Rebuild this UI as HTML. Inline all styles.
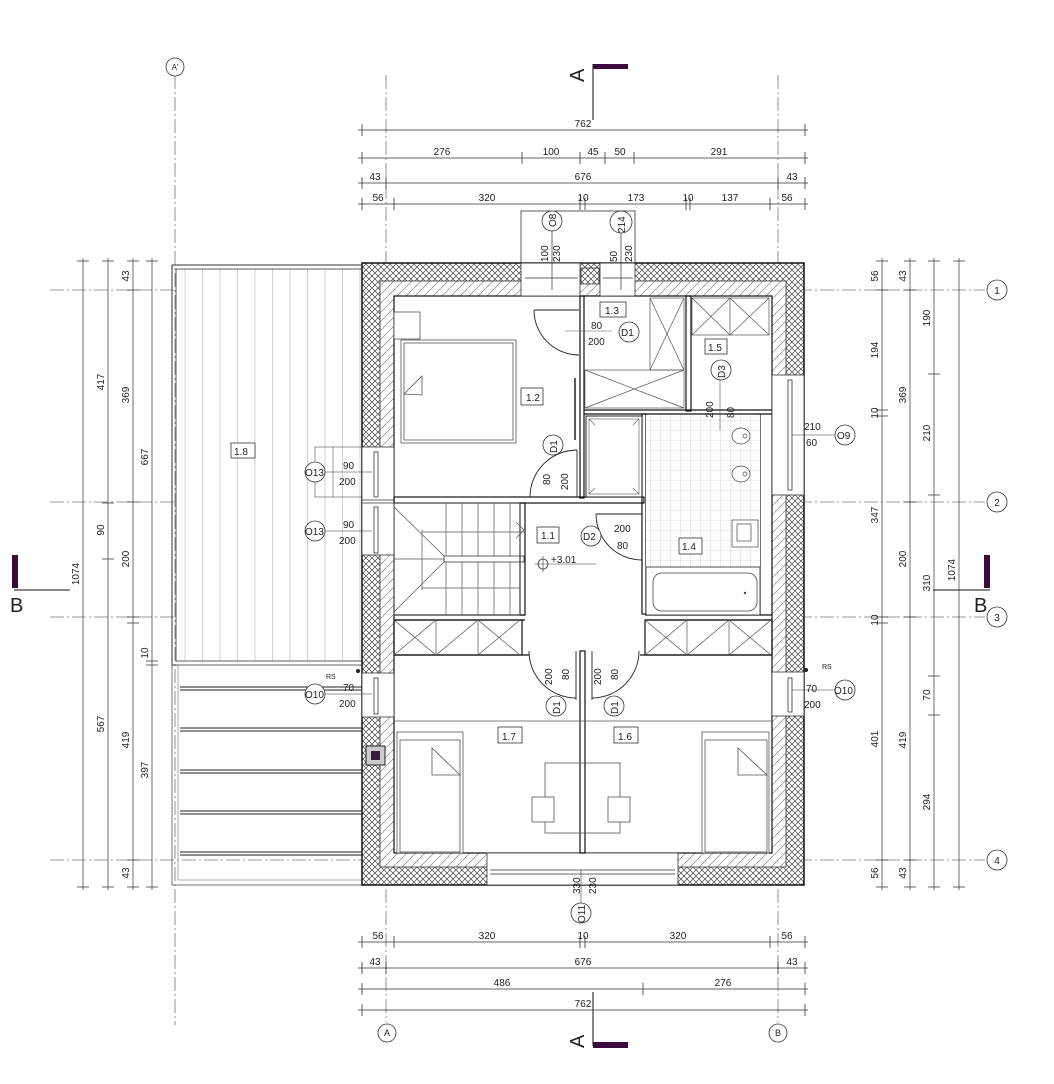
<!DOCTYPE html>
<html><head><meta charset="utf-8"><style>
html,body{margin:0;padding:0;background:#fff;}
svg{display:block;}
text{font-family:"Liberation Sans Narrow","Liberation Sans",sans-serif;font-size:10px;fill:#222;}
</style></head><body>
<svg width="1054" height="1084" viewBox="0 0 1054 1084" xmlns="http://www.w3.org/2000/svg">
<defs>
<pattern id="cross" width="6" height="6" patternUnits="userSpaceOnUse">
<rect width="6" height="6" fill="#fff"/>
<path d="M0,0L6,6M6,0L0,6" stroke="#444" stroke-width="0.7"/>
</pattern>
<pattern id="diag" width="9" height="9" patternUnits="userSpaceOnUse">
<rect width="9" height="9" fill="#fff"/>
<path d="M0,9L9,0" stroke="#888" stroke-width="0.7"/>
</pattern>
<pattern id="tile" width="10" height="10" patternUnits="userSpaceOnUse">
<rect width="10" height="10" fill="#fff"/>
<path d="M0,0H10M0,0V10" stroke="#bbb" stroke-width="0.6"/>
</pattern>
<pattern id="vstr" x="176" width="17.5" height="10" patternUnits="userSpaceOnUse">
<rect width="17.5" height="10" fill="#fff"/>
<path d="M9,0V10" stroke="#ccc" stroke-width="0.9"/>
</pattern>
</defs>

<g stroke="#777" stroke-width="0.8" stroke-dasharray="14,3,2,3" fill="none">
<line x1="175" y1="75" x2="175" y2="1025"/>
<line x1="386" y1="75" x2="386" y2="1022"/>
<line x1="778" y1="75" x2="778" y2="1022"/>
<line x1="50" y1="290" x2="985" y2="290"/>
<line x1="50" y1="502" x2="985" y2="502"/>
<line x1="50" y1="617" x2="985" y2="617"/>
<line x1="50" y1="860" x2="985" y2="860"/>
</g>
<g fill="#fff" stroke="#333" stroke-width="0.8">
<circle cx="175" cy="67" r="9"/><circle cx="387" cy="1033" r="9"/><circle cx="778" cy="1033" r="9"/>
<circle cx="997" cy="290" r="10"/><circle cx="997" cy="502" r="10"/><circle cx="997" cy="617" r="10"/><circle cx="997" cy="860" r="10"/>
</g>
<g text-anchor="middle">
<text x="175" y="70" style="font-size:8px">A'</text>
<text x="387" y="1036" style="font-size:9px">A</text><text x="778" y="1036" style="font-size:9px">B</text>
<text x="997" y="294">1</text><text x="997" y="506">2</text><text x="997" y="621">3</text><text x="997" y="864">4</text>
</g>

<rect x="172" y="265" width="190" height="400" fill="none" stroke="#333" stroke-width="1"/>
<rect x="176" y="269" width="186" height="392" fill="url(#vstr)" stroke="#333" stroke-width="0.8"/>
<rect x="172" y="665" width="190" height="220" fill="none" stroke="#555" stroke-width="0.8"/>
<rect x="178" y="665" width="184" height="215" fill="none" stroke="#777" stroke-width="0.6"/>
<g stroke="#222" stroke-width="0.9">
<line x1="180" y1="687" x2="362" y2="687"/><line x1="180" y1="690" x2="362" y2="690"/>
<line x1="180" y1="728" x2="362" y2="728"/><line x1="180" y1="731" x2="362" y2="731"/>
<line x1="180" y1="770" x2="362" y2="770"/><line x1="180" y1="773" x2="362" y2="773"/>
<line x1="180" y1="811" x2="362" y2="811"/><line x1="180" y1="814" x2="362" y2="814"/>
<line x1="180" y1="852" x2="362" y2="852"/><line x1="180" y1="855" x2="362" y2="855"/>
</g>
<rect x="315" y="447" width="47" height="50" fill="none" stroke="#666" stroke-width="0.7"/>
<line x1="333" y1="447" x2="333" y2="497" stroke="#666" stroke-width="0.6"/>
<rect x="231" y="443" width="24" height="15" fill="#fff" stroke="#333" stroke-width="0.8"/>
<text x="234" y="455">1.8</text>

<rect x="362" y="263" width="442" height="622" fill="url(#cross)" stroke="#111" stroke-width="1.5"/>
<rect x="380" y="281" width="406" height="586" fill="url(#diag)" stroke="#333" stroke-width="0.8"/>
<rect x="394" y="296" width="378" height="557" fill="#fff" stroke="#111" stroke-width="1.2"/>

<g fill="#fff" stroke="#333" stroke-width="0.8">
<rect x="521" y="263" width="59" height="33"/>
<rect x="600" y="263" width="35" height="33"/>
<rect x="581" y="268" width="18" height="16" fill="url(#cross)"/>
<rect x="362" y="447" width="32" height="108"/>
<rect x="362" y="673" width="32" height="44"/>
<rect x="772" y="375" width="32" height="120"/>
<rect x="772" y="672" width="32" height="44"/>
<rect x="487" y="853" width="191" height="32"/>
</g>
<g stroke="#333" stroke-width="0.8" fill="none">
<rect x="374" y="452" width="4" height="45"/><rect x="374" y="507" width="4" height="46"/>
<rect x="374" y="678" width="4" height="36"/>
<rect x="788" y="380" width="4" height="110"/><rect x="788" y="678" width="4" height="34"/>
<line x1="362" y1="500" x2="394" y2="500"/><line x1="362" y1="503" x2="394" y2="503"/>
<line x1="490" y1="870" x2="675" y2="870"/><line x1="490" y1="874" x2="675" y2="874"/>
<line x1="525" y1="278" x2="578" y2="278"/><line x1="603" y1="278" x2="633" y2="278"/>
</g>
<rect x="366" y="746" width="19" height="19" fill="#ccc" stroke="#222"/>
<rect x="371" y="751" width="9" height="9" fill="#3a1a3a"/>
<circle cx="358" cy="671" r="2" fill="#222"/><circle cx="806" cy="670" r="2" fill="#222"/>
<text x="326" y="679" style="font-size:7px">RS</text><text x="822" y="669" style="font-size:7px">RS</text>

<rect x="521" y="211" width="114" height="52" fill="none" stroke="#333" stroke-width="0.8"/>
<line x1="552" y1="230" x2="552" y2="290" stroke="#333" stroke-width="0.7"/>
<line x1="621" y1="232" x2="621" y2="290" stroke="#333" stroke-width="0.7"/>
<circle cx="552" cy="221" r="10" fill="#fff" stroke="#333" stroke-width="0.8"/>
<circle cx="621" cy="222" r="11" fill="#fff" stroke="#333" stroke-width="0.8"/>
<g>
<text transform="translate(556,227) rotate(-90)">O8</text>
<text transform="translate(625,233) rotate(-90)">214</text>
<text transform="translate(548,262) rotate(-90)">100</text>
<text transform="translate(560,262) rotate(-90)">230</text>
<text transform="translate(617,262) rotate(-90)">50</text>
<text transform="translate(632,262) rotate(-90)">230</text>
</g>

<g stroke="#111" stroke-width="1.2" fill="none">
<rect x="580" y="296" width="4" height="202"/>
<rect x="686" y="296" width="5" height="115"/>
<line x1="584" y1="410" x2="772" y2="410"/><line x1="584" y1="414" x2="772" y2="414"/>
<rect x="394" y="497" width="250" height="6"/>
<rect x="642" y="414" width="4" height="200"/>
<rect x="520" y="503" width="5" height="112"/>
<line x1="394" y1="615" x2="525" y2="615"/><line x1="394" y1="620" x2="525" y2="620"/>
<line x1="645" y1="615" x2="772" y2="615"/><line x1="645" y1="620" x2="772" y2="620"/>
<rect x="394" y="620" width="128" height="35"/>
<rect x="645" y="620" width="127" height="35"/>
<line x1="394" y1="655" x2="529" y2="655"/><line x1="640" y1="655" x2="772" y2="655"/>
<rect x="580" y="651" width="5" height="202"/>
<line x1="760" y1="414" x2="760" y2="615"/>
</g>
<g stroke="#555" stroke-width="0.7" fill="none">
<path d="M394,620L436,655L478,620L520,655M436,620L394,655M478,620L436,655M520,620L478,655"/>
<line x1="436" y1="620" x2="436" y2="655"/><line x1="478" y1="620" x2="478" y2="655"/>
<path d="M645,620L687,655L729,620L771,655M687,620L645,655M729,620L687,655M771,620L729,655"/>
<line x1="687" y1="620" x2="687" y2="655"/><line x1="729" y1="620" x2="729" y2="655"/>
<line x1="394" y1="721" x2="772" y2="721"/>
</g>
<rect x="646" y="415" width="114" height="152" fill="url(#tile)"/>
<rect x="586" y="416" width="56" height="81" fill="#fff" stroke="#222" stroke-width="1"/>
<rect x="589" y="419" width="50" height="75" fill="none" stroke="#555" stroke-width="0.6"/>
<path d="M589,419L595,425M639,419L633,425M589,494L595,488M639,494L633,488" stroke="#555" stroke-width="0.6"/>
<rect x="646" y="567" width="114" height="48" fill="#fff" stroke="#222" stroke-width="0.8"/>
<rect x="653" y="573" width="104" height="38" rx="9" fill="none" stroke="#444" stroke-width="0.8"/>
<circle cx="745" cy="593" r="1.2" fill="#444"/>
<g fill="#fff" stroke="#444" stroke-width="0.7">
<ellipse cx="741" cy="436" rx="9" ry="8"/><circle cx="745" cy="436" r="2"/>
<ellipse cx="741" cy="474" rx="9" ry="8"/><circle cx="745" cy="474" r="2"/>
<rect x="732" y="520" width="26" height="27"/><rect x="737" y="524" width="14" height="17"/>
</g>
<g stroke="#555" stroke-width="0.7" fill="none">
<rect x="585" y="370" width="99" height="38"/>
<path d="M585,370L684,408M684,370L585,408"/>
<rect x="650" y="298" width="34" height="72"/>
<path d="M650,298L684,370M684,298L650,370"/>
<rect x="692" y="298" width="77" height="37"/>
<path d="M692,298L730,335M730,298L692,335M730,298L769,335M769,298L730,335"/>
<line x1="730" y1="298" x2="730" y2="335"/>
</g>
<g fill="#fff" stroke="#555" stroke-width="0.8">
<rect x="394" y="312" width="26" height="27"/>
<rect x="401" y="340" width="115" height="103"/><rect x="404" y="343" width="109" height="97"/>
<path d="M404,394L422,376L422,395Z"/>
<rect x="397" y="732" width="66" height="121"/><rect x="400" y="740" width="60" height="112"/>
<path d="M432,748L460,775L432,775Z"/>
<rect x="702" y="732" width="67" height="121"/><rect x="705" y="740" width="62" height="112"/>
<path d="M738,748L767,775L738,775Z"/>
<rect x="545" y="763" width="75" height="70" fill="none"/>
<rect x="532" y="797" width="22" height="25"/><rect x="608" y="797" width="22" height="25"/>
</g>
<g stroke="#555" stroke-width="0.7" fill="none">
<rect x="394" y="503" width="126" height="112"/>
<path d="M446,503V556M462,503V556M478,503V556M494,503V556M510,503V556"/>
<path d="M446,562V615M462,562V615M478,562V615M494,562V615M510,562V615"/>
<path d="M394,507L444,556M444,562L394,612M422,530V590M394,559H444M422,532H525M422,588H520"/>
<rect x="444" y="556" width="80" height="6" stroke="#222"/>
<path d="M516,522L524,530L516,538"/>
</g>
<g stroke="#222" stroke-width="0.9" fill="none">
<path d="M534,310H579"/><path d="M534,310A45,45 0 0 0 579,355"/>
<path d="M577,497V450"/><path d="M530,497A47,47 0 0 1 577,450"/>
<path d="M596,514H642"/><path d="M596,514A46,46 0 0 0 642,560"/>
<path d="M576,651V700"/><path d="M529,651A47,47 0 0 0 576,698"/>
<path d="M592,651V700"/><path d="M639,651A47,47 0 0 1 592,698"/>
<line x1="575" y1="378" x2="575" y2="440" stroke-width="1.5"/>
</g>
<line x1="565" y1="331" x2="612" y2="331" stroke="#555" stroke-width="0.6"/>
<line x1="720" y1="370" x2="720" y2="430" stroke="#555" stroke-width="0.6"/>
<circle cx="543" cy="564" r="5" fill="none" stroke="#333" stroke-width="0.8"/>
<path d="M535,564H596M543,556V572" stroke="#333" stroke-width="0.6"/>
<text x="551" y="563">+3.01</text>

<g fill="#fff" stroke="#333" stroke-width="0.8">
<rect x="521" y="388" width="22" height="17"/><rect x="600" y="302" width="26" height="15"/>
<rect x="705" y="339" width="22" height="15"/><rect x="537" y="527" width="22" height="16"/>
<rect x="679" y="538" width="23" height="16"/><rect x="498" y="727" width="24" height="16"/>
<rect x="614" y="727" width="24" height="16"/>
</g>
<g>
<text x="526" y="401">1.2</text><text x="605" y="314">1.3</text><text x="708" y="351">1.5</text>
<text x="541" y="539">1.1</text><text x="682" y="550">1.4</text><text x="502" y="740">1.7</text><text x="618" y="740">1.6</text>
</g>
<g fill="#fff" stroke="#333" stroke-width="0.8">
<circle cx="629" cy="332" r="10"/><circle cx="721" cy="370" r="10"/><circle cx="553" cy="445" r="10"/>
<circle cx="591" cy="536" r="10"/><circle cx="556" cy="706" r="10"/><circle cx="614" cy="706" r="10"/>
</g>
<g>
<text x="621" y="336">D1</text>
<text transform="translate(725,378) rotate(-90)">D3</text>
<text transform="translate(557,453) rotate(-90)">D1</text>
<text x="583" y="540">D2</text>
<text transform="translate(560,714) rotate(-90)">D1</text>
<text transform="translate(618,714) rotate(-90)">D1</text>
<text x="591" y="329">80</text><text x="588" y="345">200</text>
<text transform="translate(550,485) rotate(-90)">80</text>
<text transform="translate(568,490) rotate(-90)">200</text>
<text x="614" y="532">200</text><text x="617" y="549">80</text>
<text transform="translate(713,418) rotate(-90)">200</text>
<text transform="translate(734,418) rotate(-90)">80</text>
<text transform="translate(552,685) rotate(-90)">200</text>
<text transform="translate(569,680) rotate(-90)">80</text>
<text transform="translate(601,685) rotate(-90)">200</text>
<text transform="translate(618,680) rotate(-90)">80</text>
</g>
<g fill="#fff" stroke="#333" stroke-width="0.8">
<circle cx="315" cy="472" r="10"/><circle cx="315" cy="531" r="10"/><circle cx="315" cy="694" r="10"/>
<circle cx="845" cy="435" r="10"/><circle cx="845" cy="690" r="10"/><circle cx="581" cy="913" r="10"/>
</g>
<g stroke="#333" stroke-width="0.6"><line x1="325" y1="472" x2="372" y2="472"/><line x1="325" y1="531" x2="372" y2="531"/><line x1="325" y1="694" x2="372" y2="694"/><line x1="792" y1="435" x2="835" y2="435"/><line x1="792" y1="690" x2="835" y2="690"/><line x1="581" y1="870" x2="581" y2="903"/></g>
<g>
<text x="305" y="476">O13</text><text x="305" y="535">O13</text><text x="305" y="698">O10</text>
<text x="837" y="439">O9</text><text x="834" y="694">O10</text>
<text transform="translate(585,923) rotate(-90)">O11</text>
<text x="343" y="469">90</text><text x="339" y="485">200</text>
<text x="343" y="528">90</text><text x="339" y="544">200</text>
<text x="343" y="691">70</text><text x="339" y="707">200</text>
<text x="804" y="430">210</text><text x="806" y="446">60</text>
<text x="806" y="692">70</text><text x="804" y="708">200</text>
<text transform="translate(580,894) rotate(-90)">330</text>
<text transform="translate(596,894) rotate(-90)">230</text>
</g>

<line x1="593" y1="64" x2="593" y2="120" stroke="#111" stroke-width="1"/>
<rect x="593" y="64" width="35" height="5" fill="#3d0a3d"/>
<text transform="translate(584,82) rotate(-90)" style="font-family:'Liberation Sans',sans-serif;font-size:20px">A</text>
<line x1="593" y1="992" x2="593" y2="1046" stroke="#111" stroke-width="1"/>
<rect x="593" y="1042" width="35" height="6" fill="#3d0a3d"/>
<text transform="translate(584,1048) rotate(-90)" style="font-family:'Liberation Sans',sans-serif;font-size:20px">A</text>
<rect x="12" y="555" width="6" height="33" fill="#3d0a3d"/>
<line x1="14" y1="590" x2="70" y2="590" stroke="#111"/>
<text x="10" y="612" style="font-family:'Liberation Sans',sans-serif;font-size:20px">B</text>
<rect x="984" y="555" width="6" height="33" fill="#3d0a3d"/>
<line x1="933" y1="590" x2="990" y2="590" stroke="#111"/>
<text x="974" y="612" style="font-family:'Liberation Sans',sans-serif;font-size:20px">B</text>

<g stroke="#333" stroke-width="0.7">
<line x1="358" y1="130" x2="808" y2="130"/><line x1="358" y1="158" x2="808" y2="158"/>
<line x1="358" y1="183" x2="808" y2="183"/><line x1="358" y1="204" x2="808" y2="204"/>
<line x1="358" y1="942" x2="808" y2="942"/><line x1="358" y1="968" x2="808" y2="968"/>
<line x1="358" y1="989" x2="808" y2="989"/><line x1="358" y1="1010" x2="808" y2="1010"/>
<line x1="83" y1="258" x2="83" y2="890"/><line x1="108" y1="258" x2="108" y2="890"/>
<line x1="133" y1="258" x2="133" y2="890"/><line x1="152" y1="258" x2="152" y2="890"/>
<line x1="882" y1="258" x2="882" y2="890"/><line x1="910" y1="258" x2="910" y2="890"/>
<line x1="934" y1="258" x2="934" y2="890"/><line x1="959" y1="258" x2="959" y2="890"/>
</g>
<g stroke="#333" stroke-width="0.8">
<path d="M362,124V136M805,124V136"/>
<path d="M362,152V164M522,152V164M580,152V164M605,152V164M634,152V164M805,152V164"/>
<path d="M362,177V189M386,177V189M778,177V189M805,177V189"/>
<path d="M362,198V210M394,198V210M580,198V210M585,198V210M686,198V210M690,198V210M770,198V210M805,198V210"/>
<path d="M362,936V948M394,936V948M580,936V948M585,936V948M770,936V948M805,936V948"/>
<path d="M362,962V974M386,962V974M778,962V974M805,962V974"/>
<path d="M362,983V995M643,983V995M805,983V995"/>
<path d="M362,1004V1016M805,1004V1016"/>
<path d="M77,261H89M77,887H89"/>
<path d="M102,261H114M102,503H114M102,559H114M102,887H114"/>
<path d="M127,261H139M127,290H139M127,502H139M127,617H139M127,623H139M127,860H139M127,887H139"/>
<path d="M146,261H158M146,661H158M146,665H158M146,887H158"/>
<path d="M876,261H888M876,290H888M876,410H888M876,416H888M876,617H888M876,623H888M876,860H888M876,887H888"/>
<path d="M904,261H916M904,290H916M904,502H916M904,617H916M904,860H916M904,887H916"/>
<path d="M928,261H940M928,374H940M928,495H940M928,676H940M928,715H940M928,887H940"/>
<path d="M953,261H965M953,887H965"/>
</g>
<g text-anchor="middle">
<text x="583" y="127">762</text>
<text x="442" y="155">276</text><text x="551" y="155">100</text><text x="593" y="155">45</text><text x="620" y="155">50</text><text x="719" y="155">291</text>
<text x="375" y="180">43</text><text x="583" y="180">676</text><text x="792" y="180">43</text>
<text x="378" y="201">56</text><text x="487" y="201">320</text><text x="583" y="201">10</text><text x="636" y="201">173</text><text x="688" y="201">10</text><text x="730" y="201">137</text><text x="787" y="201">56</text>
<text x="378" y="939">56</text><text x="487" y="939">320</text><text x="583" y="939">10</text><text x="678" y="939">320</text><text x="787" y="939">56</text>
<text x="375" y="965">43</text><text x="583" y="965">676</text><text x="792" y="965">43</text>
<text x="502" y="986">486</text><text x="723" y="986">276</text>
<text x="583" y="1007">762</text>
</g>
<g text-anchor="middle">
<text transform="translate(79,574) rotate(-90)">1074</text>
<text transform="translate(104,382) rotate(-90)">417</text>
<text transform="translate(104,530) rotate(-90)">90</text>
<text transform="translate(104,724) rotate(-90)">567</text>
<text transform="translate(129,276) rotate(-90)">43</text>
<text transform="translate(129,395) rotate(-90)">369</text>
<text transform="translate(129,559) rotate(-90)">200</text>
<text transform="translate(129,740) rotate(-90)">419</text>
<text transform="translate(129,873) rotate(-90)">43</text>
<text transform="translate(148,457) rotate(-90)">667</text>
<text transform="translate(148,653) rotate(-90)">10</text>
<text transform="translate(148,770) rotate(-90)">397</text>
<text transform="translate(878,276) rotate(-90)">56</text>
<text transform="translate(878,350) rotate(-90)">194</text>
<text transform="translate(878,413) rotate(-90)">10</text>
<text transform="translate(878,515) rotate(-90)">347</text>
<text transform="translate(878,620) rotate(-90)">10</text>
<text transform="translate(878,739) rotate(-90)">401</text>
<text transform="translate(878,873) rotate(-90)">56</text>
<text transform="translate(906,276) rotate(-90)">43</text>
<text transform="translate(906,395) rotate(-90)">369</text>
<text transform="translate(906,559) rotate(-90)">200</text>
<text transform="translate(906,740) rotate(-90)">419</text>
<text transform="translate(906,873) rotate(-90)">43</text>
<text transform="translate(930,318) rotate(-90)">190</text>
<text transform="translate(930,433) rotate(-90)">210</text>
<text transform="translate(930,583) rotate(-90)">310</text>
<text transform="translate(930,695) rotate(-90)">70</text>
<text transform="translate(930,802) rotate(-90)">294</text>
<text transform="translate(955,570) rotate(-90)">1074</text>
</g>
</svg>
</body></html>
